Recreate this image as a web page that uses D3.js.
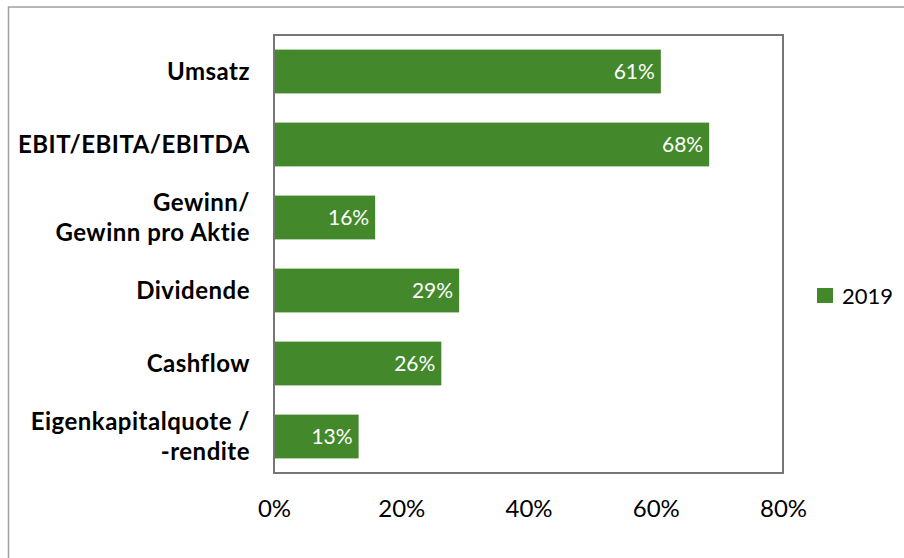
<!DOCTYPE html>
<html lang="en">
<head>
    <meta charset="UTF-8">
    <title>Kennzahlen 2019</title>
    <script src="https://cdn.jsdelivr.net/npm/d3@7"></script>
    <style>
        body { margin: 0; background: #fff; }
        svg text { font-family: Lato, "Open Sans", sans-serif; }
        .cat text { font-weight: bold; font-size: 24px; letter-spacing: 0.5px; fill: #000; }
        .xaxis text { font-size: 24px; fill: #000; }
    </style>
</head>
<body>
    <script>
        // data
        var categories = ['Umsatz', 'EBIT/EBITA/EBITDA', 'Gewinn/\nGewinn pro Aktie', 'Dividende', 'Cashflow', 'Eigenkapitalquote /\n-rendite'];
        var values2019 = [60.8, 68.4, 15.9, 29.1, 26.3, 13.3];
        var xTicks = [0, 20, 40, 60, 80];
        var seriesName = '2019';

        var w = 904, h = 558;
        var plotLeft = 274, plotRight = 783, plotTop = 35, plotBottom = 473;
        var green = '#43892b';

        var svg = d3.select('body').append('svg')
            .attr('width', w)
            .attr('height', h);

        // outer frame (runs off the right and bottom edges)
        svg.append('rect')
            .attr('x', 8.5).attr('y', 7)
            .attr('width', 1000).attr('height', 1000)
            .attr('fill', 'none')
            .attr('stroke', '#a0a0a0')
            .attr('stroke-width', 1.5);

        var xScale = d3.scaleLinear().domain([0, 80]).range([plotLeft, plotRight]);
        var yScale = d3.scaleBand().domain(categories).range([plotTop, plotBottom]).paddingInner(0.4).paddingOuter(0.2);

        // bars
        svg.selectAll('rect.bar')
            .data(values2019)
            .enter()
            .append('rect')
            .attr('class', 'bar')
            .attr('x', xScale(0))
            .attr('y', function(d, i) { return yScale(categories[i]); })
            .attr('width', function(d) { return xScale(d) - xScale(0); })
            .attr('height', yScale.bandwidth())
            .attr('fill', green);

        // value labels
        svg.selectAll('text.val')
            .data(values2019)
            .enter()
            .append('text')
            .attr('class', 'val')
            .attr('x', function(d) { return xScale(d) - 6; })
            .attr('y', function(d, i) { return yScale(categories[i]) + yScale.bandwidth() / 2; })
            .attr('dy', '0.35em')
            .attr('text-anchor', 'end')
            .attr('font-size', '21px')
            .attr('fill', '#fff')
            .text(function(d) { return Math.round(d) + '%'; });

        // plot border
        svg.append('rect')
            .attr('x', plotLeft).attr('y', plotTop)
            .attr('width', plotRight - plotLeft).attr('height', plotBottom - plotTop)
            .attr('fill', 'none')
            .attr('stroke', '#767676')
            .attr('stroke-width', 2);

        // category labels
        var cat = svg.append('g').attr('class', 'cat');
        categories.forEach(function(c) {
            var lines = c.split('\n');
            var cy = yScale(c) + yScale.bandwidth() / 2;
            var t = cat.append('text')
                .attr('text-anchor', 'end')
                .attr('y', cy - (lines.length - 1) * 15);
            lines.forEach(function(l, k) {
                t.append('tspan')
                    .attr('x', 250)
                    .attr('dy', k === 0 ? '0.35em' : '30px')
                    .text(l);
            });
        });

        // x axis labels
        var xAxis = d3.axisBottom(xScale)
            .tickValues(xTicks)
            .tickSize(0)
            .tickPadding(27)
            .tickFormat(function(d) { return d + '%'; });
        svg.append('g')
            .attr('class', 'xaxis')
            .attr('transform', 'translate(0,' + plotBottom + ')')
            .call(xAxis)
            .call(function(g) { g.select('.domain').remove(); });

        // legend
        var legend = svg.append('g').attr('transform', 'translate(817,288)');
        legend.append('rect')
            .attr('width', 16).attr('height', 15)
            .attr('fill', green);
        legend.append('text')
            .attr('x', 25).attr('y', 8)
            .attr('dy', '0.35em')
            .attr('font-size', '22px')
            .attr('fill', '#000')
            .text(seriesName);
    </script>
</body>
</html>
